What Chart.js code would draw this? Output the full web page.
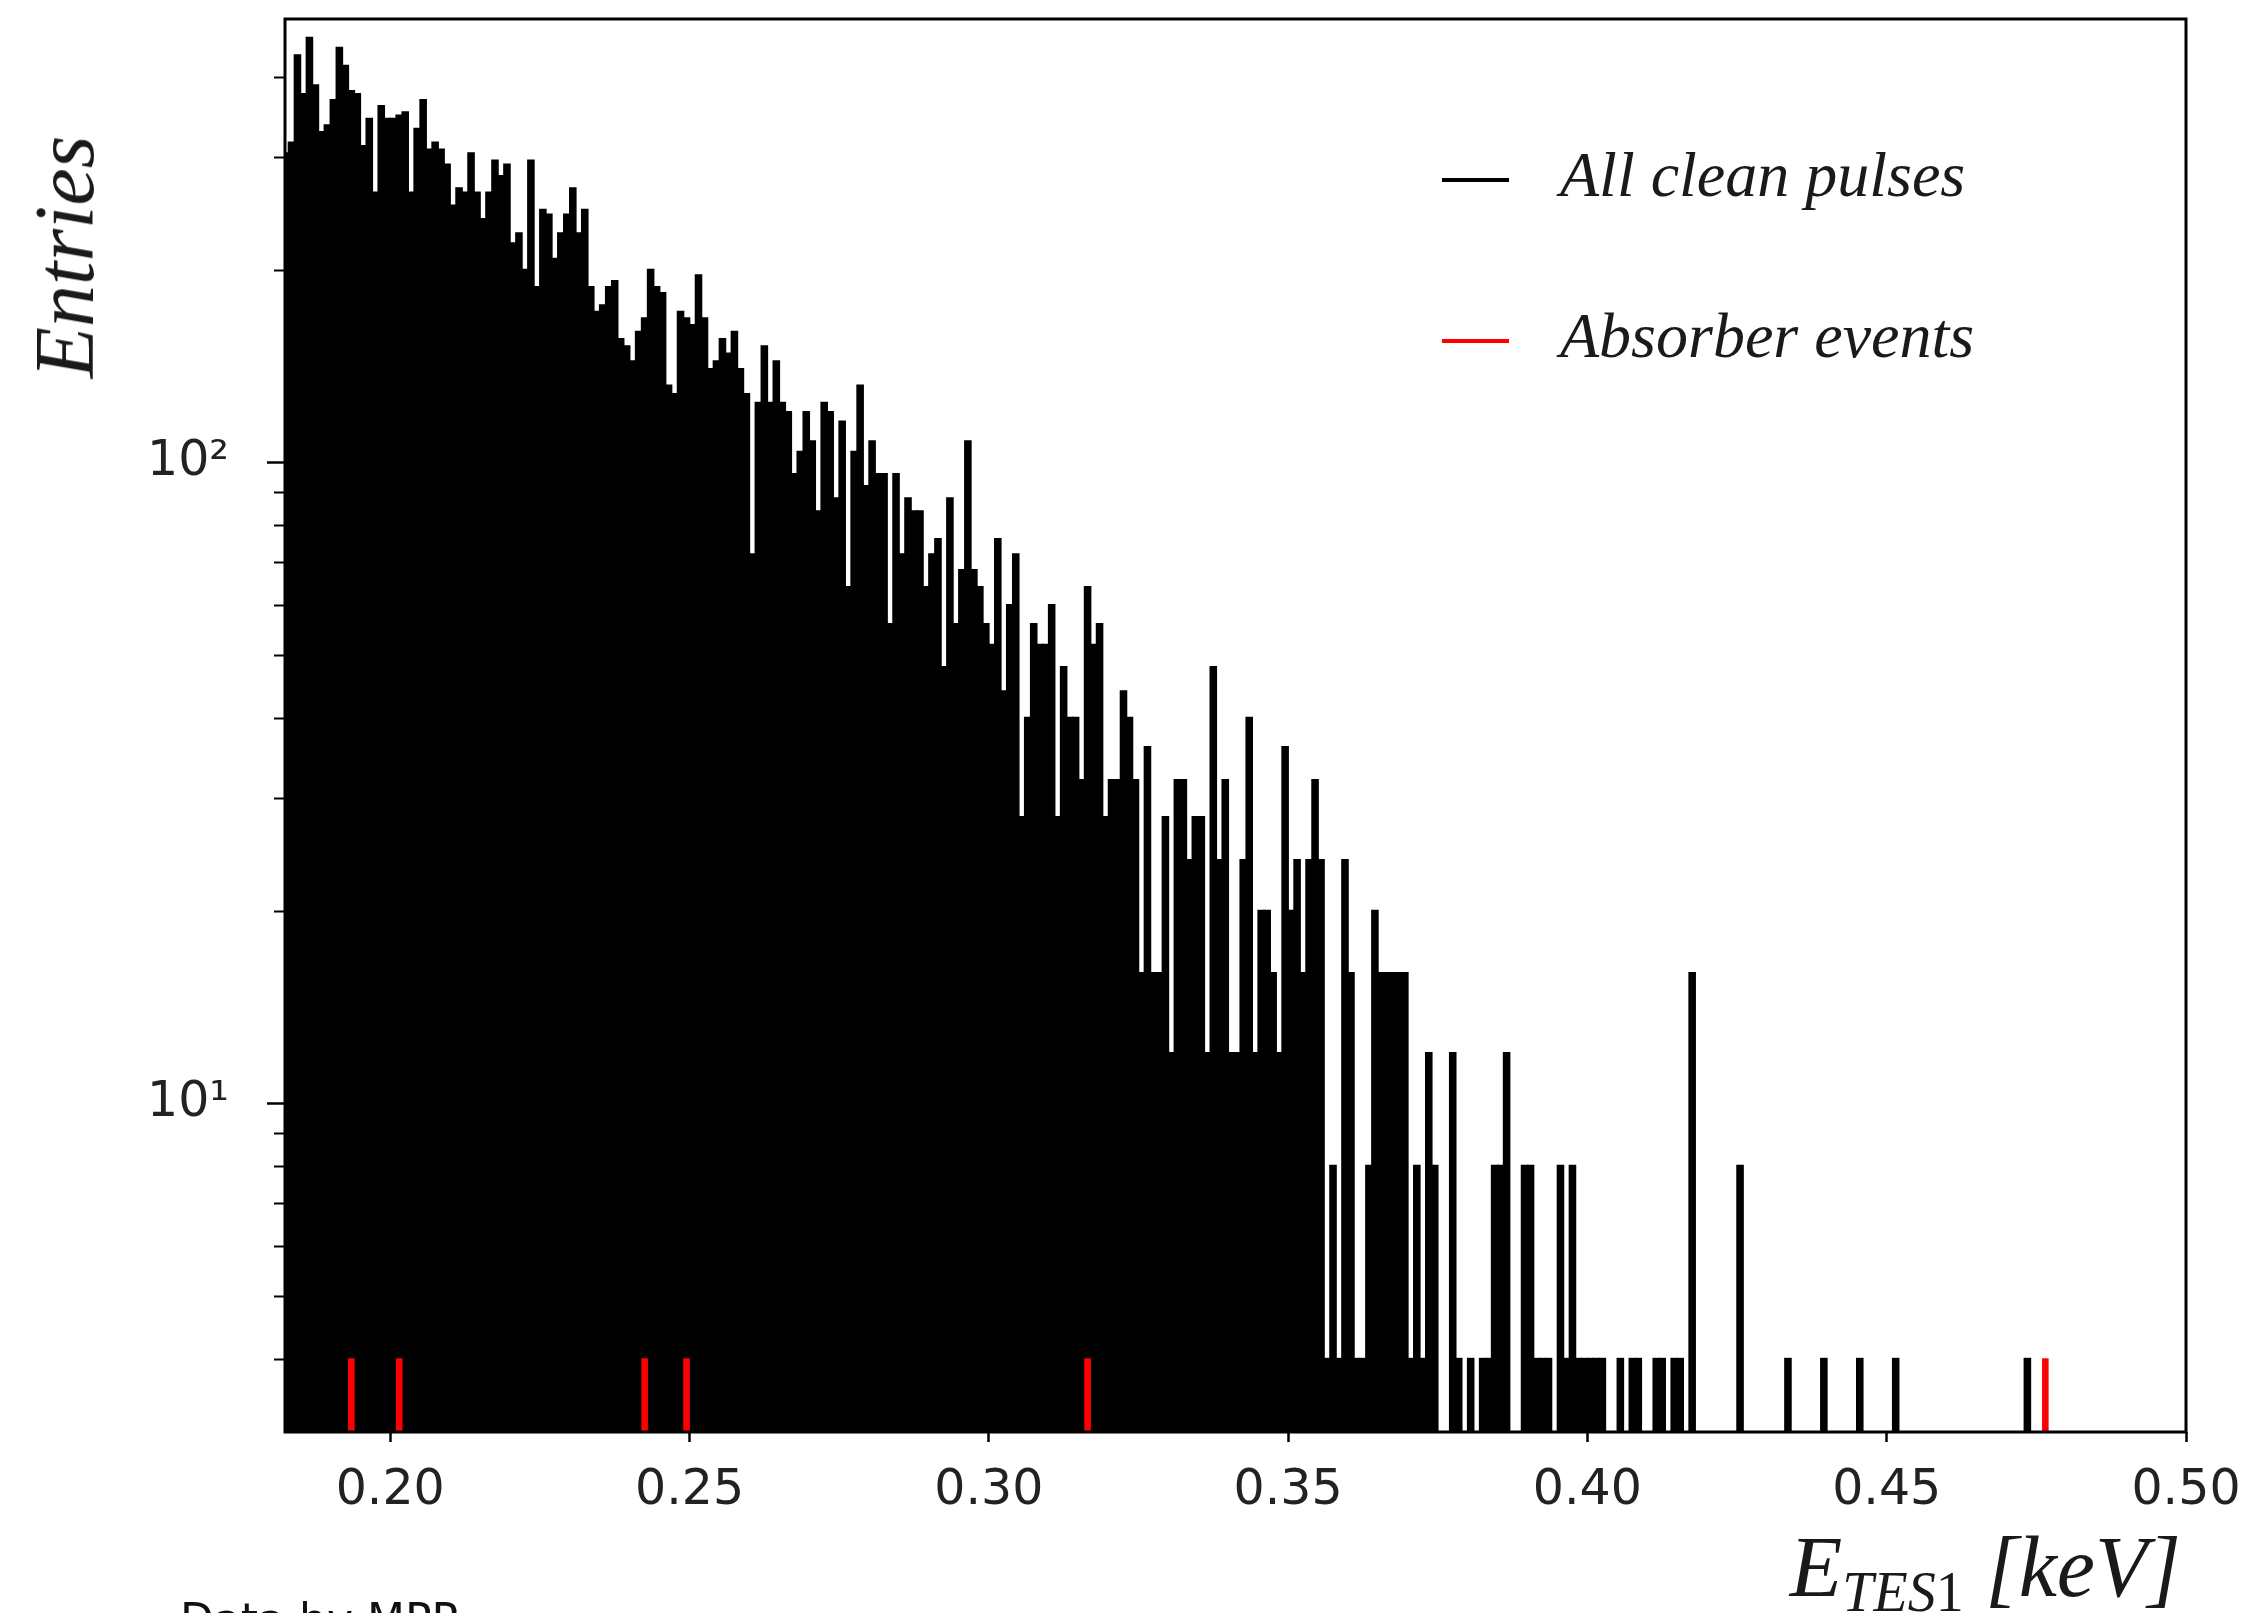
<!DOCTYPE html>
<html>
<head>
<meta charset="utf-8">
<script src="https://cdn.jsdelivr.net/npm/chart.js@4.4.1/dist/chart.umd.min.js"></script>
<style>
html,body{margin:0;padding:0;background:#fff;}
#wrap{position:relative;width:2254px;height:1613px;overflow:hidden;background:#fff;}
#c{position:absolute;left:0;top:0;}
.ser{position:absolute;font-family:'Liberation Serif','Times New Roman',serif;font-style:italic;color:#1a1a1a;white-space:nowrap;line-height:1;}
.sample{position:absolute;height:4px;width:67px;}
#credit{position:absolute;left:180px;top:1598px;font-family:'DejaVu Sans',sans-serif;font-size:44px;line-height:1;color:#111;white-space:nowrap;}
</style>
</head>
<body>
<div id="wrap">
<canvas id="c" width="2254" height="1613"></canvas>
<div id="ylab" class="ser" style="font-size:84px;left:65px;top:257px;transform:translate(-50%,-50%) rotate(-90deg);">Entries</div>
<div id="xlab" class="ser" style="font-size:86px;right:73px;top:1524px;">E<span style="font-size:56px;position:relative;top:15px;">TES<span style="font-style:normal;">1</span></span> [keV]</div>
<div id="legend"></div>
<div id="credit">Data by MPP</div>
</div>
<script>
// ---- histogram binning ----
const binStartKeV = 0.182;
const binWidthKeV = 0.001;

// ---- "All clean pulses" counts per bin (bin i covers [0.182+0.001*i, 0.183+0.001*i) keV) ----
const allCleanCounts = [
304,316,432,376,460,388,328,336,368,444,
416,380,376,312,344,264,360,344,344,348,
352,264,332,368,308,316,308,292,252,268,
264,304,264,240,264,296,280,292,220,228,
200,296,188,248,244,208,228,244,268,228,
248,188,172,176,188,192,156,152,144,160,
168,200,188,184,132,128,172,168,164,196,
168,140,144,156,148,160,140,128,72,124,
152,124,144,124,120,96,104,120,108,84,
124,120,88,116,64,104,132,92,108,96,
96,56,96,72,88,84,84,64,72,76,
48,88,56,68,108,68,64,56,52,76,
44,60,72,28,40,56,52,52,60,28,
48,40,40,32,64,52,56,28,32,32,
44,40,32,16,36,16,16,28,12,32,
32,24,28,28,12,48,24,32,12,12,
24,40,12,20,20,16,12,36,20,24,
16,24,32,24,4,8,4,24,16,4,
4,8,20,16,16,16,16,16,4,8,
4,12,8,0,0,12,4,0,4,0,
4,4,8,8,12,0,0,8,8,4,
4,4,0,8,4,8,4,4,4,4,
4,0,0,4,0,4,4,0,0,4,
4,0,4,4,0,16,0,0,0,0,
0,0,0,8,0,0,0,0,0,0,
0,4,0,0,0,0,0,4,0,0,
0,0,0,4,0,0,0,0,0,4,
0,0,0,0,0,0,0,0,0,0,
0,0,0,0,0,0,0,0,0,0,
0,4,0,0,0,0,0,0,0,0,
0,0,0,0,0,0,0,0,0,0,
0,0,0,0,0,0,0,0
];

// ---- "Absorber events" (bin centers in keV, counts) ----
const absorberEnergies = [0.1935, 0.2015, 0.2425, 0.2495, 0.3165, 0.4765];
const absorberCounts   = [4, 4, 4, 4, 4, 4];

// ---- axis ticks ----
const xTickValues = [0.20, 0.25, 0.30, 0.35, 0.40, 0.45, 0.50];
const yMajorTicks = [10, 100];
const yMajorLabels = ['10\u00B9', '10\u00B2'];
const yMinorTicks = [4,5,6,7,8,9,20,30,40,50,60,70,80,90,200,300,400];

const seriesLabels = ['All clean pulses', 'Absorber events'];
const seriesColors = ['#000000', '#ff0000'];

function binCenter(i){ return +(binStartKeV + binWidthKeV*(i+0.5)).toFixed(4); }

const cleanData = allCleanCounts.map((c,i)=>({x: binCenter(i), y: c>0 ? c : null}));
const absorberData = absorberEnergies.map((e,k)=>({x: +e.toFixed(4), y: absorberCounts[k]}));

const framePlugin = {
  id: 'frame',
  afterDatasetsDraw(chart){
    const {ctx, chartArea:a, scales:{y}} = chart;
    ctx.save();
    ctx.strokeStyle = '#000';
    ctx.lineWidth = 2;
    ctx.beginPath();
    yMinorTicks.forEach(v=>{
      const py = Math.round(y.getPixelForValue(v)) + 0.5;
      ctx.moveTo(a.left - 11, py); ctx.lineTo(a.left, py);
    });
    ctx.stroke();
    ctx.lineWidth = 3;
    ctx.strokeRect(a.left, a.top, a.right - a.left, a.bottom - a.top);
    ctx.restore();
  }
};

function zeroPad(s){ s.paddingTop = 0; s.paddingBottom = 0; s.paddingLeft = 0; s.paddingRight = 0; }

const chart = new Chart(document.getElementById('c'), {
  type: 'bar',
  data: {
    datasets: [
      {label: seriesLabels[0], data: cleanData, backgroundColor: seriesColors[0], borderWidth: 0,
       grouped: false, order: 1, barPercentage: 1, categoryPercentage: 1, inflateAmount: 0.8},
      {label: seriesLabels[1], data: absorberData, backgroundColor: seriesColors[1], borderWidth: 0,
       grouped: false, order: 0, barPercentage: 1, categoryPercentage: 1, inflateAmount: 0.3}
    ]
  },
  options: {
    responsive: false, animation: false, devicePixelRatio: 1,
    layout: {padding: {left: 0, right: 68, top: 19, bottom: 0}},
    plugins: {legend: {display: false}, tooltip: {enabled: false}},
    scales: {
      x: {
        type: 'linear', min: 0.18242, max: 0.5, offset: false, bounds: 'data',
        grid: {display: true, drawOnChartArea: false, drawTicks: true, tickLength: 10, tickWidth: 2.5, tickColor: '#000', offset: false},
        border: {display: false},
        ticks: {font: {family: 'DejaVu Sans', size: 49}, color: '#222', padding: 20, maxRotation: 0, autoSkip: false,
                callback: (v)=> Number(v).toFixed(2)},
        afterBuildTicks: s => { s.ticks = xTickValues.map(v=>({value: v})); },
        afterFit: s => { s.height = 181; zeroPad(s); }
      },
      y: {
        type: 'logarithmic', min: 3.073, max: 491.9, bounds: 'data',
        grid: {display: true, drawOnChartArea: false, drawTicks: true, tickLength: 18, tickWidth: 2.5, tickColor: '#000'},
        border: {display: false},
        ticks: {font: {family: 'DejaVu Sans', size: 49}, color: '#222', padding: 38, autoSkip: false, major: {enabled: false},
                callback: (v)=> { const k = yMajorTicks.indexOf(v); return k >= 0 ? yMajorLabels[k] : ''; }},
        afterBuildTicks: s => { s.ticks = yMajorTicks.map(v=>({value: v})); },
        afterFit: s => { s.width = 285; zeroPad(s); }
      }
    }
  },
  plugins: [framePlugin]
});

// legend built from the chart's datasets
const legend = document.getElementById('legend');
const legendRows = [{lineY: 180, baseY: 197}, {lineY: 341, baseY: 358}];
chart.data.datasets.forEach((ds, k)=>{
  const r = legendRows[k];
  const s = document.createElement('div');
  s.className = 'sample';
  s.style.left = '1442px'; s.style.top = (r.lineY - 2) + 'px';
  s.style.background = ds.backgroundColor;
  legend.appendChild(s);
  const t = document.createElement('div');
  t.className = 'ser';
  t.style.fontSize = '64px';
  t.style.left = '1560px';
  t.style.top = (r.baseY - 0.8375*64) + 'px';
  t.textContent = ds.label;
  legend.appendChild(t);
});
</script>
</body>
</html>
